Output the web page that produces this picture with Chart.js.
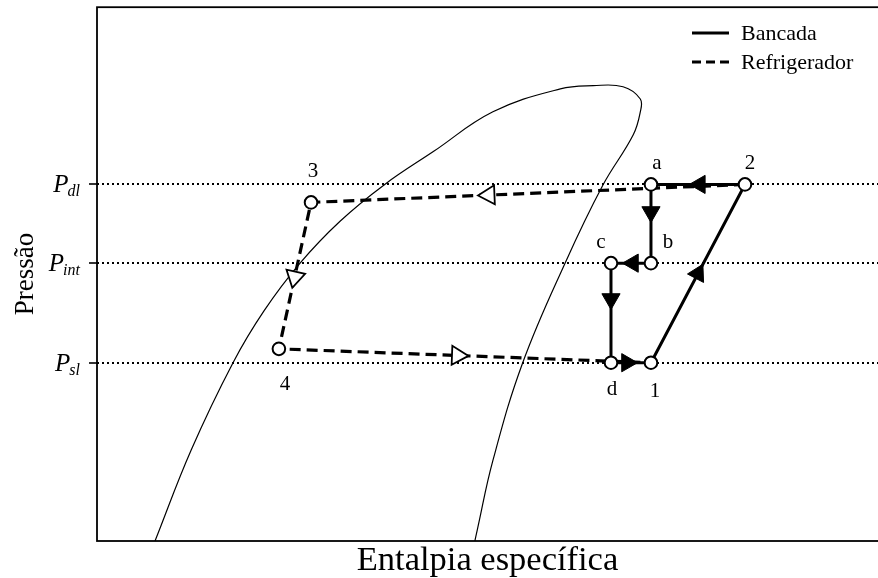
<!DOCTYPE html>
<html>
<head>
<meta charset="utf-8">
<script src="https://cdn.jsdelivr.net/npm/chart.js@4.4.1/dist/chart.umd.min.js"></script>
<style>
  html, body { margin: 0; padding: 0; overflow: hidden; background: #fff; width: 878px; height: 578px; }
  #wrap { width: 882px; height: 578px; }
</style>
</head>
<body>
<div id="wrap"><canvas id="c" width="882" height="578"></canvas></div>
<script>
// Pressure levels (relative scale 0–100) and their subscripts
const pressureNames  = ['dl', 'int', 'sl'];
const pressureLevels = [66.8, 52.05, 33.4];

// Saturation dome: relative specific enthalpy / relative pressure
const domeH = [7.4, 12.0, 17.35, 21.3, 25.9, 31.0, 36.7, 42.9, 50.5, 59.1, 63.3, 67.1, 69.3, 69.3, 68.4, 64.5, 59.7, 54.3, 50.5, 48.5, 48.2];
const domeP = [0, 17.0, 33.4, 43.1, 52.05, 59.9, 66.8, 72.95, 80.4, 84.7, 85.3, 85.1, 82.8, 80.4, 76.1, 66.6, 52.05, 33.4, 15.1, 2.05, 0];

// Test-bench cycle (Bancada): states in order of the path
const benchStates = ['1', '2', 'a', 'b', 'c', 'd'];
const benchH = [70.66, 82.65, 70.66, 70.66, 65.56, 65.56];
const benchP = [33.4, 66.8, 66.8, 52.05, 52.05, 33.4];

// Refrigerator cycle (Refrigerador): 2 -> 3 -> 4 -> 1
const fridgeStates = ['2', '3', '4', '1'];
const fridgeH = [82.65, 27.3, 23.2, 70.66];
const fridgeP = [66.8, 63.43, 36.0, 33.4];

// Where along each segment the direction arrow sits (0 = start, 1 = end)
const benchArrowAt  = [0.5, 0.48, 0.35, 0.45, 0.36, 0.4];
const fridgeArrowAt = [0.59, 0.51, 0.48];

// Label placement around each state marker, in pixels
const labelOffset = {
  '1': [4, 29], '2': [5, -21], 'a': [6, -21], 'b': [17, -21],
  'c': [-10, -21], 'd': [1, 27], '3': [2, -31], '4': [6, 36]
};

const serif = '"Liberation Serif", "DejaVu Serif", serif';

// closed bench loop
const benchPath = benchH.map((h, i) => ({ x: h, y: benchP[i] }));
benchPath.push({ x: benchH[0], y: benchP[0] });
const fridgePath = fridgeH.map((h, i) => ({ x: h, y: fridgeP[i] }));

function arrowsOn(path, fractions) {
  return fractions.map((f, i) => {
    const p0 = path[i], p1 = path[i + 1];
    return { x: p0.x + (p1.x - p0.x) * f, y: p0.y + (p1.y - p0.y) * f,
             h0: p0.x, p0: p0.y, h1: p1.x, p1: p1.y };
  });
}

function arrowRotation(ctx) {
  const r = ctx.raw;
  if (!r || r.h0 === undefined) return 0;
  const sx = ctx.chart.scales.x, sy = ctx.chart.scales.y;
  const dx = sx.getPixelForValue(r.h1) - sx.getPixelForValue(r.h0);
  const dy = sy.getPixelForValue(r.p1) - sy.getPixelForValue(r.p0);
  return Math.atan2(dx, -dy) * 180 / Math.PI;
}

const annotate = {
  id: 'annotate',
  afterDraw(chart) {
    const { ctx, chartArea: a, scales: { x, y } } = chart;
    ctx.save();

    // frame
    ctx.strokeStyle = '#000';
    ctx.lineWidth = 1.8;
    ctx.strokeRect(a.left, a.top, a.right - a.left, a.bottom - a.top);

    ctx.fillStyle = '#000';

    // pressure tick labels: P with subscript
    pressureLevels.forEach((v, i) => {
      const yp = y.getPixelForValue(v);
      ctx.font = 'italic 16px ' + serif;
      ctx.textBaseline = 'alphabetic';
      ctx.textAlign = 'left';
      const ws = ctx.measureText(pressureNames[i]).width;
      ctx.fillText(pressureNames[i], 80 - ws, yp + 12);
      ctx.font = 'italic 25px ' + serif;
      const wp = ctx.measureText('P').width;
      ctx.fillText('P', 80 - ws - wp + 1, yp + 8);
    });

    // state labels
    ctx.font = '21px ' + serif;
    ctx.textAlign = 'center';
    ctx.textBaseline = 'middle';
    const placed = {};
    benchStates.forEach((s, i) => { placed[s] = [benchH[i], benchP[i]]; });
    fridgeStates.forEach((s, i) => { if (!placed[s]) placed[s] = [fridgeH[i], fridgeP[i]]; });
    Object.keys(placed).forEach(s => {
      const [h, p] = placed[s];
      const off = labelOffset[s] || [0, -20];
      ctx.fillText(s, x.getPixelForValue(h) + off[0], y.getPixelForValue(p) + off[1]);
    });

    // legend
    const entries = chart.data.datasets.filter(d => d.legendLabel);
    entries.forEach((d, i) => {
      const ly = 33 + i * 29;
      ctx.save();
      ctx.strokeStyle = d.borderColor;
      ctx.lineWidth = d.borderWidth;
      ctx.setLineDash(d.legendDash || []);
      ctx.beginPath();
      ctx.moveTo(692, ly);
      ctx.lineTo(729, ly);
      ctx.stroke();
      ctx.restore();
      ctx.font = '22px ' + serif;
      ctx.textAlign = 'left';
      ctx.textBaseline = 'middle';
      ctx.fillText(d.legendLabel, 741, ly + 1);
    });

    // axis titles
    ctx.font = '34.5px ' + serif;
    ctx.textAlign = 'center';
    ctx.textBaseline = 'alphabetic';
    ctx.fillText('Entalpia específica', (a.left + 878) / 2, 570);

    ctx.save();
    ctx.translate(33, (a.top + a.bottom) / 2);
    ctx.rotate(-Math.PI / 2);
    ctx.font = '27px ' + serif;
    ctx.fillText('Pressão', 0, 0);
    ctx.restore();

    ctx.restore();
  }
};

new Chart(document.getElementById('c'), {
  type: 'scatter',
  data: {
    datasets: [
      {
        // filled arrows on the bench cycle
        data: arrowsOn(benchPath, benchArrowAt),
        pointStyle: 'triangle',
        pointRadius: 10.5,
        pointBackgroundColor: '#000',
        pointBorderColor: '#000',
        pointBorderWidth: 1,
        rotation: arrowRotation,
        showLine: false,
        order: 0
      },
      {
        // open arrows on the refrigerator cycle
        data: arrowsOn(fridgePath, fridgeArrowAt),
        pointStyle: 'triangle',
        pointRadius: 11,
        pointBackgroundColor: '#fff',
        pointBorderColor: '#000',
        pointBorderWidth: 1.8,
        rotation: arrowRotation,
        showLine: false,
        order: 1
      },
      {
        legendLabel: 'Bancada',
        data: benchPath,
        showLine: true,
        borderColor: '#000',
        borderWidth: 3,
        tension: 0,
        pointStyle: 'circle',
        pointRadius: benchPath.map((_, i) => i < benchH.length ? 6.3 : 0),
        pointBackgroundColor: '#fff',
        pointBorderColor: '#000',
        pointBorderWidth: 2,
        order: 2
      },
      {
        legendLabel: 'Refrigerador',
        legendDash: [9, 5],
        data: fridgePath,
        showLine: true,
        borderColor: '#000',
        borderWidth: 3.2,
        borderDash: [11, 6],
        tension: 0,
        pointStyle: 'circle',
        pointRadius: fridgeStates.map(s => benchStates.includes(s) ? 0 : 6.3),
        pointBackgroundColor: '#fff',
        pointBorderColor: '#000',
        pointBorderWidth: 2,
        order: 3
      },
      {
        // saturation dome
        data: domeH.map((h, i) => ({ x: h, y: domeP[i] })),
        showLine: true,
        borderColor: '#000',
        borderWidth: 1.2,
        tension: 0.4,
        pointRadius: 0,
        order: 4
      }
    ]
  },
  options: {
    responsive: false,
    animation: false,
    events: [],
    layout: { autoPadding: false, padding: { top: 5, right: 1, bottom: 37, left: 0 } },
    plugins: { legend: { display: false }, tooltip: { enabled: false } },
    scales: {
      x: {
        type: 'linear', min: 0, max: 100,
        display: false
      },
      y: {
        type: 'linear', min: 0, max: 100,
        afterBuildTicks: s => { s.ticks = pressureLevels.map(v => ({ value: v })); },
        afterFit: s => { s.width = 97; },
        ticks: { callback: () => '', padding: 0 },
        grid: {
          color: '#000', lineWidth: 2, tickLength: 8, tickWidth: 1.6,
          tickBorderDash: [], drawOnChartArea: true
        },
        border: { display: false, dash: [2, 3] }
      }
    }
  },
  plugins: [annotate]
});
</script>
</body>
</html>
